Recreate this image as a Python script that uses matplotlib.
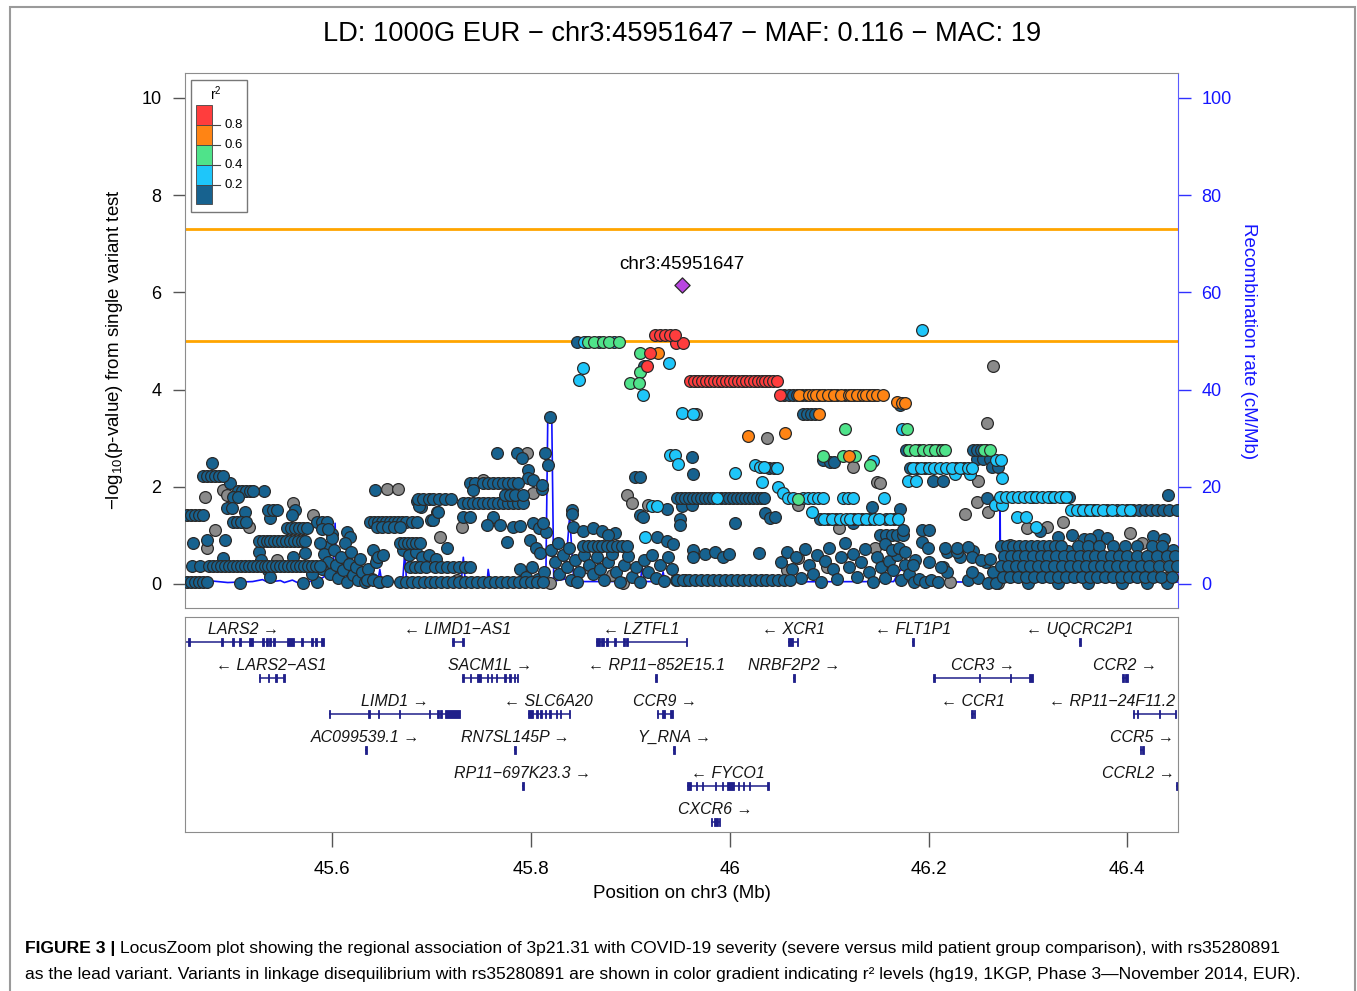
import matplotlib
matplotlib.use("Agg")
import matplotlib.pyplot as plt
from matplotlib.patches import Rectangle

plt.rcParams["font.family"] = ["Liberation Sans", "DejaVu Sans"]
plt.rcParams["mathtext.fontset"] = "custom"
plt.rcParams["mathtext.rm"] = "Liberation Sans"
plt.rcParams["mathtext.it"] = "Liberation Sans:italic"
plt.rcParams["mathtext.default"] = "regular"

# ---------------------------------------------------------------
# data: SNPs as (position in Mb, -log10 p), grouped by r^2 class
# ---------------------------------------------------------------
LEAD = (45.9516, 6.16)
LEAD_NAME = "chr3:45951647"
GW_LINES = [7.30, 5.0]


def band(logp, positions):
    return [(p, logp) for p in positions]


gray_snps = [
    (45.472, 1.79), (45.490, 1.93), (45.494, 1.83), (45.474, 0.74), (45.482, 1.11), (45.516, 1.17),
    (45.561, 1.67), (45.581, 1.42), (45.545, 0.49), (45.645, 0.53), (45.655, 1.95), (45.666, 1.95),
    (45.709, 0.97), (45.731, 1.17), (45.752, 2.14), (45.796, 2.70), (45.802, 1.87), (45.726, 0.08),
    (45.819, 0.03), (45.623, 0.33), (45.897, 1.83), (45.902, 1.67), (45.918, 1.62), (46.069, 1.62),
    (46.110, 1.15), (46.124, 2.41), (46.148, 2.10), (46.146, 0.74), (46.069, 0.53), (45.858, 0.33),
    (45.882, 0.19), (45.893, 0.02), (45.955, 0.08), (46.058, 0.29), (46.098, 0.35), (46.222, 0.04),
    (46.038, 3.00), (46.265, 4.48), (46.259, 3.31), (46.250, 2.12), (46.249, 1.69), (46.237, 1.44),
    (46.260, 1.48), (46.299, 1.15), (46.319, 1.17), (46.335, 1.28), (46.403, 1.05), (46.415, 0.84),
    (46.151, 2.08), (46.282, 0.80), (46.398, 0.43), (46.440, 0.12), (46.270, 0.03), (45.966, 3.50),
]

dark_snps = [
    (45.479, 2.49), (45.497, 2.08), (45.531, 1.91), (45.512, 1.48), (45.538, 1.36), (45.563, 1.52),
    (45.560, 1.42), (45.474, 0.90), (45.460, 0.84), (45.492, 0.90), (45.490, 0.53), (45.526, 0.66),
    (45.528, 0.49), (45.507, 0.02), (45.571, 0.02), (45.536, 0.29), (45.538, 0.14), (45.600, 1.03),
    (45.561, 0.56), (45.573, 0.64), (45.595, 0.76), (45.615, 1.07), (45.618, 0.97),
    (45.588, 0.85), (45.592, 0.62), (45.596, 0.45), (45.590, 0.30), (45.598, 0.20), (45.602, 0.70),
    (45.604, 0.40), (45.606, 0.12), (45.609, 0.55), (45.611, 0.28), (45.613, 0.85), (45.615, 0.05),
    (45.617, 0.42), (45.619, 0.65), (45.621, 0.18), (45.624, 0.35), (45.626, 0.08), (45.628, 0.52),
    (45.630, 0.25), (45.633, 0.04), (45.636, 0.30), (45.640, 0.10), (45.644, 0.45), (45.648, 0.05),
    (45.585, 0.05), (45.580, 0.20), (45.600, 0.95),
    (45.643, 1.93), (45.641, 0.70), (45.646, 0.56), (45.651, 0.60), (45.635, 0.08), (45.641, 0.08),
    (45.647, 0.05), (45.655, 0.06), (45.671, 0.70), (45.677, 0.60), (45.684, 0.66), (45.690, 0.55),
    (45.697, 0.60), (45.705, 0.52), (45.716, 0.74), (45.685, 1.70), (45.689, 1.58), (45.706, 1.48),
    (45.699, 1.32), (45.702, 1.32), (45.739, 2.07), (45.744, 2.07), (45.742, 1.93), (45.732, 1.38),
    (45.739, 1.38), (45.762, 1.38), (45.756, 1.21), (45.769, 1.21), (45.782, 1.17), (45.789, 1.20),
    (45.776, 0.86), (45.766, 2.70), (45.786, 2.70), (45.814, 2.70), (45.791, 2.59), (45.797, 2.35),
    (45.797, 2.18), (45.802, 2.14), (45.811, 1.96), (45.811, 2.03), (45.817, 2.45), (45.819, 3.43),
    (45.802, 1.25), (45.808, 1.15), (45.815, 1.07), (45.812, 1.25), (45.799, 0.90), (45.805, 0.75),
    (45.809, 0.64), (45.789, 0.30), (45.795, 0.15), (45.801, 0.35), (45.807, 0.10), (45.813, 0.25),
    (45.820, 0.70), (45.824, 0.45), (45.828, 0.20), (45.832, 0.60), (45.836, 0.35), (45.840, 0.08),
    (45.844, 0.50), (45.848, 0.25), (45.827, 0.85), (45.838, 0.75), (45.846, 0.05), (45.841, 1.52),
    (45.841, 1.44), (45.842, 1.17), (45.687, 1.60), (45.707, 1.48),
    (45.852, 1.10), (45.862, 1.15), (45.872, 1.10), (45.885, 1.05), (45.878, 1.00),
    (45.853, 0.60), (45.858, 0.40), (45.862, 0.20), (45.866, 0.55), (45.870, 0.30), (45.874, 0.08),
    (45.878, 0.45), (45.882, 0.62), (45.886, 0.25), (45.890, 0.05), (45.894, 0.40), (45.898, 0.58),
    (45.902, 0.15), (45.906, 0.35), (45.910, 0.05), (45.914, 0.50), (45.918, 0.25), (45.922, 0.60),
    (45.926, 0.12), (45.930, 0.40), (45.934, 0.06), (45.938, 0.55), (45.942, 0.30), (45.946, 0.08),
    (45.905, 2.20), (45.910, 2.20), (45.910, 1.42), (45.913, 1.38), (45.937, 1.55), (45.952, 1.60),
    (45.962, 1.62), (45.950, 1.33), (45.950, 1.21), (45.927, 0.97), (45.937, 0.88), (45.943, 0.82),
    (45.962, 2.62), (45.963, 2.26), (45.914, 4.48),
    (46.036, 1.46), (46.041, 1.36), (46.046, 1.38), (46.005, 1.25), (46.029, 0.64), (45.963, 0.70),
    (45.963, 0.55), (45.975, 0.62), (45.985, 0.65), (45.993, 0.55), (45.999, 0.62), (46.040, 2.38),
    (46.045, 2.38),
    (46.052, 0.45), (46.058, 0.65), (46.063, 0.30), (46.067, 0.55), (46.072, 0.12), (46.076, 0.72),
    (46.080, 0.40), (46.084, 0.20), (46.088, 0.60), (46.092, 0.05), (46.096, 0.48), (46.100, 0.75),
    (46.104, 0.30), (46.108, 0.10), (46.112, 0.55), (46.116, 0.85), (46.120, 0.35), (46.124, 0.62),
    (46.128, 0.15), (46.132, 0.45), (46.136, 0.72), (46.140, 0.25), (46.144, 0.05), (46.148, 0.55),
    (46.152, 0.35), (46.156, 0.12), (46.160, 0.48), (46.164, 0.28), (46.168, 0.60), (46.172, 0.08),
    (46.176, 0.40), (46.180, 0.20), (46.185, 0.05), (46.190, 0.10), (46.196, 0.05), (46.203, 0.08),
    (46.210, 0.04), (46.186, 0.50), (46.200, 0.45), (46.240, 0.08), (46.250, 0.12), (46.258, 0.45),
    (46.265, 0.25), (46.232, 0.55), (46.245, 0.68),
    (46.094, 2.55), (46.101, 2.50), (46.105, 2.50), (46.124, 1.25), (46.151, 1.00), (46.157, 1.00),
    (46.163, 1.00), (46.168, 1.00), (46.174, 1.00), (46.174, 1.11), (46.156, 0.82), (46.163, 0.70),
    (46.170, 0.75), (46.176, 0.65), (46.193, 1.11), (46.200, 1.11), (46.193, 0.86), (46.199, 0.74),
    (46.219, 0.66), (46.229, 0.66), (46.215, 0.35), (46.219, 0.25), (46.184, 0.39), (46.171, 1.54),
    (46.143, 1.58), (46.205, 2.12), (46.215, 2.12), (46.259, 1.77), (46.356, 0.93), (46.441, 1.83),
    (46.171, 3.68), (46.217, 0.74), (46.229, 0.74), (46.240, 0.76), (46.244, 0.55), (46.213, 0.35),
    (46.244, 0.25), (46.253, 0.50), (46.262, 0.52), (46.260, 0.03),
    (46.330, 0.97), (46.344, 1.00), (46.371, 1.00), (46.380, 0.95), (46.362, 0.92), (46.426, 0.98),
    (46.437, 0.92), (46.312, 1.10), (46.268, 0.02), (46.300, 0.02), (46.330, 0.02), (46.360, 0.03),
    (46.395, 0.02), (46.420, 0.03), (46.440, 0.02), (46.300, 0.48), (46.340, 0.68), (46.392, 0.68),
    (46.416, 0.48), (46.446, 0.70), (46.287, 0.27), (46.356, 0.27), (46.404, 0.27),
]
dark_snps += band(2.22, [45.470, 45.474, 45.478, 45.482, 45.486, 45.490])
dark_snps += band(1.91, [45.505, 45.509, 45.513, 45.517, 45.520])
dark_snps += band(1.79, [45.500, 45.505])
dark_snps += band(1.56, [45.494, 45.499])
dark_snps += band(1.42, [45.454, 45.458, 45.462, 45.466, 45.470])
dark_snps += band(1.28, [45.500, 45.504, 45.508, 45.513, 45.585, 45.590, 45.595])
dark_snps += band(1.52, [45.536, 45.541, 45.545])
dark_snps += band(1.15, [45.555, 45.559, 45.563, 45.567, 45.571, 45.575])
dark_snps += band(1.13, [45.590, 45.596])
dark_snps += band(0.89, [45.526, 45.530, 45.534, 45.538, 45.542, 45.546, 45.550, 45.554, 45.558,
                         45.562, 45.566, 45.570, 45.573])
dark_snps += band(0.37, [45.459, 45.467, 45.476, 45.480, 45.484, 45.488, 45.492, 45.496, 45.500,
                         45.504, 45.508, 45.512, 45.516, 45.520, 45.524, 45.528, 45.532, 45.536,
                         45.540, 45.544, 45.548, 45.552, 45.556, 45.560, 45.564, 45.568, 45.572,
                         45.576, 45.580, 45.584, 45.588])
dark_snps += band(0.04, [45.454, 45.458, 45.462, 45.466, 45.470, 45.474])
dark_snps += band(1.27, [45.638, 45.642, 45.646, 45.650, 45.654, 45.658, 45.662, 45.666, 45.670,
                         45.674, 45.680, 45.685])
dark_snps += band(1.18, [45.645, 45.650, 45.656, 45.662, 45.668])
dark_snps += band(0.84, [45.668, 45.672, 45.676, 45.680, 45.684, 45.688])
dark_snps += band(0.35, [45.678, 45.683, 45.688, 45.694, 45.704, 45.710, 45.716, 45.722, 45.728,
                         45.734, 45.739])
dark_snps += band(0.04, [45.668, 45.674, 45.680, 45.686, 45.692, 45.698, 45.704, 45.710, 45.716,
                         45.722, 45.728, 45.734, 45.740, 45.746, 45.752, 45.758, 45.764, 45.770,
                         45.776, 45.782, 45.788, 45.794, 45.800, 45.806, 45.812])
dark_snps += band(1.75, [45.686, 45.691, 45.697, 45.702, 45.708, 45.714, 45.720])
dark_snps += band(1.66, [45.732, 45.737, 45.742, 45.747, 45.752, 45.757, 45.762, 45.767, 45.772,
                         45.777, 45.782, 45.787, 45.792])
dark_snps += band(2.08, [45.752, 45.757, 45.762, 45.767, 45.772, 45.777, 45.782, 45.787])
dark_snps += band(1.83, [45.774, 45.779, 45.784, 45.792])
dark_snps += band(0.78, [45.852, 45.857, 45.862, 45.867, 45.872, 45.877, 45.882, 45.887, 45.892,
                         45.897])
dark_snps += band(1.77, [45.947, 45.951, 45.955, 45.959, 45.963, 45.967, 45.971, 45.975, 45.979,
                         45.983, 45.991, 45.995, 45.999, 46.003, 46.007, 46.011, 46.015, 46.019,
                         46.023, 46.027, 46.031, 46.035])
dark_snps += band(0.08, [45.947, 45.953, 45.959, 45.965, 45.971, 45.977, 45.983, 45.989, 45.995,
                         46.001, 46.007, 46.013, 46.019, 46.025, 46.031, 46.037, 46.043, 46.049,
                         46.055, 46.061])
dark_snps += band(1.33, [46.091, 46.099, 46.107, 46.125, 46.133, 46.141, 46.157, 46.165])
dark_snps += band(2.39, [46.181, 46.188, 46.196, 46.228, 46.236])
dark_snps += band(2.57, [46.249, 46.255, 46.262])
dark_snps += band(2.41, [46.264, 46.270])
dark_snps += band(1.79, [46.305, 46.323, 46.335, 46.341])
dark_snps += band(1.52, [46.352, 46.359, 46.366, 46.380, 46.390, 46.400, 46.406, 46.412, 46.418,
                         46.424, 46.430, 46.436, 46.442, 46.450])
dark_snps += band(2.76, [46.177, 46.190, 46.203, 46.211, 46.245, 46.249, 46.253, 46.258])
dark_snps += band(3.89, [46.055, 46.060, 46.064, 46.068, 46.073, 46.077, 46.090, 46.095, 46.102,
                         46.108, 46.116, 46.125, 46.131, 46.140, 46.145])
dark_snps += band(3.50, [46.074, 46.078, 46.082, 46.086])
dark_snps += band(4.18, [45.966, 45.978, 45.990, 46.002, 46.014, 46.026, 46.038])
dark_snps += band(4.98, [45.846, 45.855])
dark_snps += band(0.78, [46.273, 46.279, 46.285, 46.291, 46.297, 46.303, 46.309, 46.315, 46.321,
                         46.327, 46.333, 46.350, 46.360, 46.372, 46.386, 46.398, 46.410, 46.425,
                         46.435])
dark_snps += band(0.58, [46.276, 46.283, 46.290, 46.297, 46.305, 46.313, 46.320, 46.328, 46.336,
                         46.344, 46.352, 46.360, 46.368, 46.376, 46.384, 46.392, 46.400, 46.410,
                         46.420, 46.430, 46.440, 46.448])
dark_snps += band(0.38, [46.273, 46.280, 46.288, 46.295, 46.302, 46.310, 46.318, 46.326, 46.334,
                         46.342, 46.350, 46.358, 46.366, 46.374, 46.382, 46.390, 46.398, 46.406,
                         46.414, 46.422, 46.432, 46.442, 46.450])
dark_snps += band(0.15, [46.275, 46.282, 46.290, 46.298, 46.306, 46.314, 46.322, 46.330, 46.338,
                         46.346, 46.354, 46.362, 46.370, 46.378, 46.386, 46.394, 46.402, 46.410,
                         46.418, 46.426, 46.434, 46.445])

light_snps = [
    (45.853, 4.98), (45.868, 4.98), (45.884, 4.98), (45.852, 4.44), (45.848, 4.20), (45.913, 3.89),
    (45.939, 4.55), (45.952, 3.52), (45.963, 3.50), (45.940, 2.65), (45.945, 2.65), (45.948, 2.47),
    (46.005, 2.28), (46.025, 2.45), (46.030, 2.40), (46.035, 2.40), (46.048, 2.38), (46.032, 2.10),
    (46.049, 2.00), (46.054, 1.88), (46.083, 1.48), (45.915, 0.97), (45.922, 1.60), (45.927, 1.60),
    (45.987, 1.77), (46.114, 1.77), (46.119, 1.77), (46.124, 1.77), (46.155, 1.77), (46.144, 2.53),
    (46.193, 5.22), (46.173, 3.18), (46.179, 2.12), (46.187, 2.12), (46.227, 2.26), (46.242, 2.26),
    (46.268, 2.55), (46.273, 2.55), (46.274, 2.18), (46.267, 1.63), (46.274, 1.63), (46.289, 1.38),
    (46.298, 1.38), (46.308, 1.17),
]
light_snps += band(1.77, [46.059, 46.064, 46.074, 46.079, 46.084, 46.089, 46.094])
light_snps += band(1.33, [46.095, 46.103, 46.111, 46.117, 46.121, 46.129, 46.137, 46.145, 46.150,
                          46.161, 46.169])
light_snps += band(2.39, [46.184, 46.192, 46.200, 46.206, 46.212, 46.218, 46.224, 46.232, 46.240,
                          46.244])
light_snps += band(1.79, [46.272, 46.278, 46.284, 46.290, 46.296, 46.302, 46.308, 46.314, 46.320,
                          46.326, 46.332, 46.338])
light_snps += band(1.52, [46.343, 46.349, 46.355, 46.362, 46.370, 46.376, 46.385, 46.395, 46.403])

green_snps = [
    (45.910, 4.75), (45.910, 4.36), (45.900, 4.14), (45.909, 4.14), (46.116, 3.18), (46.178, 3.18),
    (46.094, 2.63), (46.114, 2.63), (46.126, 2.63), (46.141, 2.45), (46.069, 1.75),
]
green_snps += band(4.98, [45.857, 45.863, 45.873, 45.879, 45.889])
green_snps += band(2.76, [46.180, 46.186, 46.194, 46.200, 46.207, 46.214, 46.217, 46.256, 46.262])

orange_snps = [
    (45.928, 4.75), (46.018, 3.04), (46.056, 3.10), (46.120, 2.63), (46.090, 3.50),
    (46.168, 3.74), (46.173, 3.72), (46.176, 3.72),
]
orange_snps += band(3.89, [46.070, 46.080, 46.084, 46.087, 46.093, 46.099, 46.105, 46.112, 46.120,
                           46.122, 46.128, 46.134, 46.137, 46.143, 46.148, 46.154])

red_snps = [(45.946, 4.96), (45.953, 4.96), (45.920, 4.75), (45.917, 4.48), (46.051, 3.89)]
red_snps += band(5.13, [45.925, 45.930, 45.935, 45.940, 45.945])
red_snps += band(4.18, [45.960, 45.964, 45.968, 45.972, 45.976, 45.980, 45.984, 45.988, 45.992,
                        45.996, 46.000, 46.004, 46.008, 46.012, 46.016, 46.020, 46.024, 46.028,
                        46.032, 46.036, 46.040, 46.044, 46.048])

# recombination rate (position Mb, cM/Mb)
recomb = [
    (45.452, 0.5), (45.470, 0.4), (45.480, 0.6), (45.495, 0.3), (45.520, 0.5), (45.530, 0.9),
    (45.535, 0.4), (45.548, 0.7), (45.552, 0.3), (45.560, 0.8), (45.565, 0.3), (45.575, 0.5),
    (45.585, 0.6), (45.592, 1.5), (45.596, 2.5), (45.601, 2.0), (45.603, 12.5), (45.605, 1.0),
    (45.610, 0.5), (45.646, 0.5), (45.648, 3.0), (45.650, 0.4), (45.671, 0.5), (45.673, 6.4),
    (45.675, 0.4), (45.730, 0.5), (45.732, 5.5), (45.734, 0.4), (45.756, 0.5), (45.757, 3.0),
    (45.759, 0.4), (45.815, 0.6), (45.817, 34.5), (45.821, 34.0), (45.823, 0.6), (45.834, 1.0),
    (45.839, 14.0), (45.843, 1.0), (45.848, 0.5), (45.910, 0.5), (45.912, 3.5), (45.914, 0.5),
    (45.931, 0.5), (45.933, 2.5), (45.935, 0.4), (46.165, 0.5), (46.170, 2.5), (46.176, 3.5),
    (46.179, 0.5), (46.240, 0.4), (46.242, 0.8), (46.244, 0.4), (46.2715, 0.5), (46.272, 17.0),
    (46.2725, 0.4), (46.451, 0.4),
]

# genes: name, start, end, strand, row, exons
gene_names = ["LARS2", "LIMD1-AS1", "LZTFL1", "XCR1", "FLT1P1", "UQCRC2P1",
              "LARS2-AS1", "SACM1L", "RP11-852E15.1", "NRBF2P2", "CCR3", "CCR2",
              "LIMD1", "SLC6A20", "CCR9", "CCR1", "RP11-24F11.2",
              "AC099539.1", "RN7SL145P", "Y_RNA", "CCR5",
              "RP11-697K23.3", "FYCO1", "CCRL2", "CXCR6"]
gene_start = [45.430, 45.721, 45.865, 46.059, 46.183, 46.351,
              45.526, 45.731, 45.925, 46.064, 46.205, 46.395,
              45.597, 45.797, 45.927, 46.243, 46.406,
              45.633, 45.783, 45.943, 46.413,
              45.791, 45.957, 46.449, 45.981]
gene_end = [45.592, 45.732, 45.957, 46.069, 46.185, 46.353,
            45.552, 45.787, 45.927, 46.065, 46.305, 46.401,
            45.729, 45.839, 45.943, 46.247, 46.449,
            45.635, 45.785, 45.945, 46.417,
            45.793, 46.039, 46.452, 45.990]
gene_strand = [1, -1, -1, -1, -1, -1,
               -1, 1, -1, 1, 1, 1,
               1, -1, 1, -1, -1,
               1, 1, 1, 1,
               1, -1, 1, 1]
gene_row = [0, 0, 0, 0, 0, 0,
            1, 1, 1, 1, 1, 1,
            2, 2, 2, 2, 2,
            3, 3, 3, 3,
            4, 4, 4, 5]
gene_exons = [
    [(45.455, 45.457), (45.488, 45.490), (45.499, 45.501), (45.506, 45.508), (45.516, 45.520),
     (45.529, 45.531), (45.533, 45.535), (45.537, 45.539), (45.541, 45.543), (45.555, 45.562),
     (45.569, 45.571), (45.579, 45.581), (45.583, 45.585), (45.589, 45.592)],
    [(45.721, 45.722), (45.731, 45.732)],
    [(45.865, 45.870), (45.871, 45.874), (45.876, 45.878), (45.884, 45.885), (45.893, 45.894),
     (45.896, 45.897), (45.956, 45.957)],
    [(46.059, 46.064), (46.068, 46.069)],
    [(46.183, 46.185)],
    [(46.351, 46.353)],
    [(45.526, 45.527), (45.535, 45.536), (45.543, 45.544), (45.551, 45.552)],
    [(45.731, 45.732), (45.739, 45.740), (45.746, 45.750), (45.756, 45.757), (45.760, 45.761),
     (45.765, 45.766), (45.773, 45.775), (45.778, 45.780), (45.783, 45.784), (45.786, 45.787)],
    [(45.925, 45.927)],
    [(46.064, 46.065)],
    [(46.205, 46.206), (46.251, 46.252), (46.282, 46.283), (46.301, 46.305)],
    [(46.395, 46.397), (46.398, 46.401)],
    [(45.597, 45.598), (45.636, 45.638), (45.646, 45.647), (45.667, 45.668), (45.697, 45.698),
     (45.706, 45.707), (45.709, 45.711), (45.714, 45.729)],
    [(45.797, 45.802), (45.805, 45.807), (45.809, 45.811), (45.814, 45.815), (45.818, 45.820),
     (45.825, 45.826), (45.829, 45.830), (45.838, 45.839)],
    [(45.927, 45.928), (45.932, 45.935), (45.940, 45.943)],
    [(46.243, 46.245), (46.246, 46.247)],
    [(46.406, 46.407), (46.410, 46.411), (46.432, 46.433), (46.448, 46.449)],
    [(45.633, 45.635)],
    [(45.783, 45.785)],
    [(45.943, 45.945)],
    [(46.413, 46.414), (46.415, 46.417)],
    [(45.791, 45.793)],
    [(45.957, 45.961), (45.966, 45.967), (45.972, 45.973), (45.985, 45.986), (45.992, 45.993),
     (45.997, 46.004), (46.008, 46.009), (46.013, 46.014), (46.019, 46.020), (46.038, 46.039)],
    [(46.449, 46.452)],
    [(45.981, 45.982), (45.984, 45.988), (45.989, 45.990)],
]

legend_cuts = ["0.8", "0.6", "0.4", "0.2"]
TITLE = "LD: 1000G EUR \u2212 chr3:45951647 \u2212 MAF: 0.116 \u2212 MAC: 19"
CAPTION_BOLD = "FIGURE 3 |"
CAPTION_1 = ("LocusZoom plot showing the regional association of 3p21.31 with COVID-19 severity "
             "(severe versus mild patient group comparison), with rs35280891")
CAPTION_2 = ("as the lead variant. Variants in linkage disequilibrium with rs35280891 are shown in "
             "color gradient indicating r\u00b2 levels (hg19, 1KGP, Phase 3\u2014November 2014, EUR).")

# ---------------------------------------------------------------
COL_GRAY = "#8a8a8a"
COL_DARK = "#17628f"
COL_LIGHT = "#1ec6fa"
COL_GREEN = "#4fe38a"
COL_ORANGE = "#ff8414"
COL_RED = "#ff3d3d"
COL_LEAD = "#b946e0"
GENE_COL = "#1f1f8a"
XMIN, XMAX = 45.452, 46.451

W, H = 1357, 991
fig = plt.figure(figsize=(W / 100, H / 100), dpi=100)

# outer frame
fig.patches.append(Rectangle((10 / W, -0.01), 1345 / W, 1 - 7 / H + 0.01, transform=fig.transFigure,
                             fill=False, edgecolor="#9a9a9a", lw=1.5))

ax = fig.add_axes([185 / W, 1 - 608 / H, 993 / W, 535 / H])
ax2 = ax.twinx()
ax.set_zorder(ax2.get_zorder() + 1)
ax.patch.set_visible(False)

ax.set_xlim(XMIN, XMAX)
ax.set_ylim(-0.494, 10.514)
ax2.set_ylim(-4.94, 105.14)

rx, ry = zip(*recomb)
ax2.plot(rx, ry, color="#1010ff", lw=1.2)

for y in GW_LINES:
    ax.axhline(y, color="#ffa500", lw=2, zorder=2)

groups = [(gray_snps, COL_GRAY), (dark_snps, COL_DARK), (light_snps, COL_LIGHT),
          (green_snps, COL_GREEN), (orange_snps, COL_ORANGE), (red_snps, COL_RED)]
for snps, col in groups:
    xs, ys = zip(*snps)
    ax.scatter(xs, ys, s=72, c=col, edgecolors="#2a2a2a", linewidths=0.9, zorder=3)
ax.scatter([LEAD[0]], [LEAD[1]], s=60, marker="D", c=COL_LEAD, edgecolors="#2a2a2a",
           linewidths=0.9, zorder=4)
ax.annotate(LEAD_NAME, LEAD, xytext=(0, 8), textcoords="offset points", ha="center",
            va="bottom", fontsize=13.5)

for s in ax.spines.values():
    s.set_color("#8c8c8c")
ax.spines["right"].set_color("#5a5aff")
ax.set_xticks([])
ax.set_yticks(range(0, 11, 2))
ax.tick_params(axis="y", length=9, width=1, color="#555555", labelsize=13, pad=8)
ax2.set_yticks(range(0, 101, 20))
ax2.tick_params(axis="y", length=9, width=1, color="#3030ff", labelcolor="#1515ff",
                labelsize=13, pad=8)
for s in ax2.spines.values():
    s.set_visible(False)

fig.text(115 / W, 1 - 350 / H, "\u2212log$_{10}$(p-value) from single variant test",
         rotation=90, ha="center", va="center", fontsize=13.5)
fig.text(1249 / W, 1 - 341 / H, "Recombination rate (cM/Mb)", rotation=270, ha="center",
         va="center", fontsize=13.5, color="#1515ff")

# r^2 legend
lg = ax.transAxes
ax.add_patch(Rectangle((0.006, 0.740), 0.0564, 0.247, transform=lg, fill=True,
                       facecolor="white", edgecolor="#777777", lw=1, zorder=5))
bounds = [0.940, 0.903, 0.865, 0.828, 0.791, 0.755]
for i, col in enumerate([COL_RED, COL_ORANGE, COL_GREEN, COL_LIGHT, COL_DARK]):
    ax.add_patch(Rectangle((0.0111, bounds[i + 1]), 0.0161, bounds[i] - bounds[i + 1],
                           transform=lg, facecolor=col, edgecolor="#444444", lw=0.6, zorder=6))
for i, lab in enumerate(legend_cuts):
    yb = bounds[i + 1]
    ax.plot([0.0272, 0.0352], [yb, yb], color="#444444", lw=0.8, transform=lg, zorder=6)
    ax.text(0.0393, yb, lab, transform=lg, fontsize=9.5, va="center", ha="left", zorder=6)
ax.text(0.0312, 0.962, "r$^2$", transform=lg, fontsize=10, ha="center", va="center", zorder=6)

# gene panel
gx = fig.add_axes([185 / W, 1 - 832 / H, 993 / W, 215 / H])
gx.set_xlim(XMIN, XMAX)
gx.set_ylim(5.28, -0.694)
gx.set_yticks([])
for s in gx.spines.values():
    s.set_color("#8c8c8c")
gx.set_xticks([45.6, 45.8, 46.0, 46.2, 46.4])
gx.set_xticklabels(["45.6", "45.8", "46", "46.2", "46.4"])
gx.tick_params(axis="x", length=11, width=1, color="#555555", labelsize=13.5, pad=10)
gx.set_xlabel("Position on chr3 (Mb)", fontsize=13.5, labelpad=5)

fig.canvas.draw()
renderer = fig.canvas.get_renderer()
gbox = gx.get_window_extent(renderer)
for name, st, en, strand, row, exons in zip(gene_names, gene_start, gene_end, gene_strand,
                                            gene_row, gene_exons):
    gx.plot([st, en], [row, row], color=GENE_COL, lw=1.1, solid_capstyle="butt")
    for es, ee in exons:
        w = max(ee - es, 0.0012)
        gx.add_patch(Rectangle((es, row - 0.11), w, 0.22, facecolor=GENE_COL,
                               edgecolor=GENE_COL, lw=0.6))
    label = name.replace("-", "\u2212")
    label = label + " \u2192" if strand > 0 else "\u2190 " + label
    t = gx.text((st + en) / 2, row - 0.34, label, ha="center", va="center", fontsize=11.5,
                style="italic", color="#151515")
    bb = t.get_window_extent(renderer)
    if bb.x1 > gbox.x1 - 3:
        t.set_ha("right")
        t.set_x(gx.transData.inverted().transform((gbox.x1 - 3, 0))[0])
    elif bb.x0 < gbox.x0 + 3:
        t.set_ha("left")
        t.set_x(gx.transData.inverted().transform((gbox.x0 + 3, 0))[0])

fig.text(0.5025, 1 - 34 / H, TITLE, ha="center", va="center", fontsize=19.6)

cap_font = ["Liberation Sans Narrow", "Liberation Sans"]
tb = fig.text(25 / W, 1 - 948 / H, CAPTION_BOLD, ha="left", va="center", fontsize=12.6,
              fontweight="bold", family=cap_font)
fig.canvas.draw()
bx = tb.get_window_extent(fig.canvas.get_renderer())
fig.text((bx.x1 + 5) / W, 1 - 948 / H, CAPTION_1, ha="left", va="center", fontsize=12.6,
         family=cap_font)
fig.text(25 / W, 1 - 975 / H, CAPTION_2, ha="left", va="center", fontsize=12.6,
         family=cap_font)

fig.savefig("out.png", dpi=100)
